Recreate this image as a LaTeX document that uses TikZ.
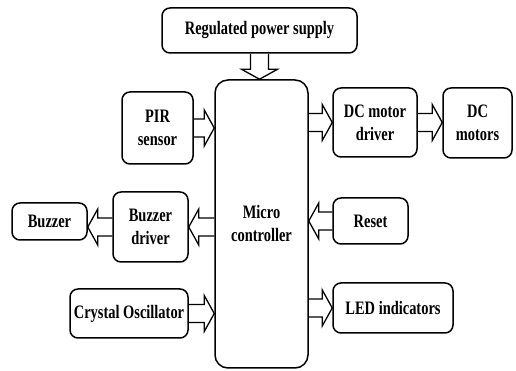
\documentclass[tikz,border=0pt]{standalone}
\usepackage{fontspec}
\setmainfont{Liberation Serif}[FakeStretch=0.76]
\usetikzlibrary{arrows.meta,positioning,calc}

\begin{document}
\begin{tikzpicture}[x=1pt,y=1pt,line width=1.5pt,
 font=\fontsize{19}{23}\selectfont\bfseries,
 blk/.style={draw,rounded corners=8pt,align=center,inner sep=2pt},
 bus/.style={line width=1.3pt,line join=miter,to path={
  ($(\tikztostart)!9pt!90:(\tikztotarget)$)
  -- ($(\tikztotarget)!10pt!(\tikztostart)!9pt!90:(\tikztotarget)$)
  -- ($(\tikztotarget)!10pt!(\tikztostart)!18pt!90:(\tikztotarget)$)
  -- (\tikztotarget)
  -- ($(\tikztotarget)!10pt!(\tikztostart)!18pt!-90:(\tikztotarget)$)
  -- ($(\tikztotarget)!10pt!(\tikztostart)!9pt!-90:(\tikztotarget)$)
  -- ($(\tikztostart)!9pt!-90:(\tikztotarget)$)}}]
\useasboundingbox (0,0) rectangle (516,371);
\node[blk,minimum width=195,minimum height=45] (psu) at (259.5,340.5) {Regulated power supply};
\node[blk,rounded corners=13pt,minimum width=93,minimum height=288] (mcu) at (261.5,147) {Micro\\controller};
\node[blk,minimum width=71,minimum height=72] (pir) at (157.5,243) {PIR\\sensor};
\node[blk,minimum width=75,minimum height=70] (bzd) at (150.5,144) {Buzzer\\driver};
\node[blk,minimum width=75,minimum height=37] (bz) at (49.5,149.5) {Buzzer};
\node[blk,minimum width=118,minimum height=49] (xtal) at (129,57.5) {Crystal Oscillator};
\node[blk,minimum width=84,minimum height=69] (dcd) at (375,248.5) {DC motor\\driver};
\node[blk,minimum width=69,minimum height=70] (dcm) at (477.5,248) {DC\\motors};
\node[blk,minimum width=75,minimum height=46] (rst) at (370.5,150) {Reset};
\node[blk,minimum width=120,minimum height=50] (led) at (393,63) {LED indicators};
% connections
\draw[bus] (psu.south) to (psu.south |- mcu.north);
\draw[bus] (pir.east) to (pir.east -| mcu.west);
\draw[bus] (mcu.west |- bzd.east) to (bzd.east);
\draw[bus] (bzd.west) to (bzd.west -| bz.east);
\draw[bus] (xtal.east) to (xtal.east -| mcu.west);
\draw[bus] (mcu.east |- dcd.west) to (dcd.west);
\draw[bus] (dcd.east) to (dcd.east -| dcm.west);
\draw[bus] (rst.west) to (rst.west -| mcu.east);
\draw[bus] (mcu.east |- led.west) to (led.west);
\end{tikzpicture}
\end{document}
